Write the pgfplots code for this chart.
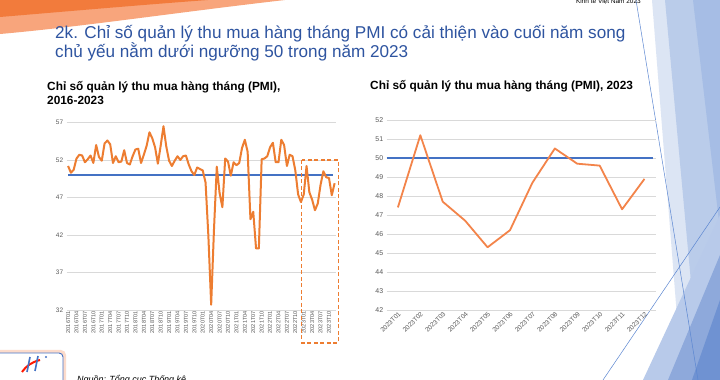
\documentclass[border=0pt]{standalone}
\usepackage{fontspec}
\setmainfont{Liberation Sans}
\usepackage{pgfplots}
\pgfplotsset{compat=1.18}
\usepackage{pgfplotstable}
\definecolor{titleblue}{HTML}{2E54A0}
\definecolor{pmiorange}{HTML}{ED7D31}
\definecolor{pmiorangeB}{HTML}{F3844A}
\definecolor{lineblue}{HTML}{4472C4}
\definecolor{gridgray}{HTML}{D9D9D9}
\definecolor{ticktext}{HTML}{595959}
\definecolor{orangeD}{HTML}{F27B3C}
\definecolor{orangeL}{HTML}{F8A57C}
\definecolor{blueA}{HTML}{DCE5F4}
\definecolor{blueB}{HTML}{BACCEA}
\definecolor{blueC}{HTML}{A6BDE5}
\definecolor{blueD}{HTML}{8EA9DB}
\definecolor{blueE}{HTML}{6F92D2}
\definecolor{blueThin}{HTML}{5B86D1}

\pgfplotstableread{
i v
0 51.2
1 50.3
2 50.7
3 52.2
4 52.7
5 52.6
6 51.7
7 52.1
8 52.6
9 51.6
10 54.0
11 52.4
12 51.9
13 54.2
14 54.6
15 54.1
16 51.6
17 52.5
18 51.7
19 51.8
20 53.3
21 51.6
22 51.4
23 52.5
24 53.4
25 53.5
26 51.6
27 52.7
28 53.9
29 55.7
30 54.9
31 53.7
32 51.5
33 53.9
34 56.5
35 53.8
36 51.9
37 51.2
38 51.9
39 52.5
40 52.0
41 52.5
42 52.6
43 51.4
44 50.5
45 50.0
46 51.0
47 50.8
48 50.6
49 49.0
50 41.9
51 32.7
52 42.7
53 51.1
54 47.6
55 45.7
56 52.2
57 51.8
58 49.9
59 51.7
60 51.3
61 51.6
62 53.6
63 54.7
64 53.1
65 44.1
66 45.1
67 40.2
68 40.2
69 52.1
70 52.2
71 52.5
72 53.7
73 54.3
74 51.7
75 51.7
76 54.7
77 54.0
78 51.2
79 52.7
80 52.5
81 50.6
82 47.4
83 46.4
84 47.4
85 51.2
86 47.7
87 46.7
88 45.3
89 46.2
90 48.7
91 50.5
92 49.7
93 49.6
94 47.3
95 48.9
}\pmiall

\pgfplotstableread{
i v
0 47.4
1 51.2
2 47.7
3 46.7
4 45.3
5 46.2
6 48.7
7 50.5
8 49.7
9 49.6
10 47.3
11 48.9
}\pmiyear

\begin{document}
\begin{tikzpicture}
\clip (0,0) rectangle (720bp,380bp);
\fill[white] (0,0) rectangle (720bp,380bp);
\begin{scope}[yshift=380bp, x=1bp, y=-1bp]
  % orange swoosh top-left
  \fill[orangeL] (0,15) -- (0,34) .. controls (80,27) and (180,12) .. (285,0) -- (200,0) -- cycle;
  \fill[orangeD] (0,0) -- (208,0) .. controls (140,5) and (60,12) .. (0,17) -- cycle;
  % blue facets right
  \fill[blueA] (652,0) -- (720,0) -- (720,380) -- (682,380) -- cycle;
  \fill[blueB] (665,0) -- (720,0) -- (720,380) -- (700,380) -- cycle;
  \fill[blueC] (693,0) -- (720,0) -- (720,230) -- cycle;
  \fill[blueC!80!white] (643,380) -- (720,215) -- (720,380) -- cycle;
  \fill[blueD] (668,380) -- (720,255) -- (720,380) -- cycle;
  \fill[blueE] (692,380) -- (720,300) -- (720,380) -- cycle;
  \draw[blueThin, line width=0.5bp] (636,0) -- (698,380);
  \draw[blueThin, line width=0.5bp] (720,207) -- (603,380);
  % header small text
  \node[anchor=base east, inner sep=0, font=\fontsize{6.5}{7}\selectfont] at (641,4) {Kinh tế Việt Nam 2023};
  % title
  \node[anchor=base west, inner sep=0, text=titleblue, font=\fontsize{17.2}{19}\selectfont] at (55,39)
     {2k. Chỉ số quản lý thu mua hàng tháng PMI có cải thiện vào cuối năm song};
  \node[anchor=base west, inner sep=0, text=titleblue, font=\fontsize{17.2}{19}\selectfont] at (55,58)
     {chủ yếu nằm dưới ngưỡng 50 trong năm 2023};
  % subtitles
  \node[anchor=base west, inner sep=0, font=\bfseries\fontsize{11.9}{13}\selectfont] at (47,91)
     {Chỉ số quản lý thu mua hàng tháng (PMI),};
  \node[anchor=base west, inner sep=0, font=\bfseries\fontsize{11.9}{13}\selectfont] at (47,105)
     {2016-2023};
  \node[anchor=base west, inner sep=0, font=\bfseries\fontsize{11.9}{13}\selectfont] at (370,90)
     {Chỉ số quản lý thu mua hàng tháng (PMI), 2023};
  % logo
  \fill[orangeL!40!white, rounded corners=5] (-6,350) rectangle (66,392);
  \draw[lineblue, line width=0.9bp, fill=white, rounded corners=4] (-6,353) rectangle (63,392);
  \draw[red!80!orange, line width=2bp] (22,372) .. controls (26,366) and (32,362) .. (40,360);
  \draw[lineblue, line width=1.6bp] (30,357) -- (27,372);
  \draw[lineblue, line width=1.6bp] (38,356) -- (35,371);
  \fill[lineblue] (46,357) circle (1.2);
  % source
  \node[anchor=base west, inner sep=0, font=\itshape\fontsize{9}{10}\selectfont] at (77,383)
     {Nguồn: Tổng cục Thống kê};
\end{scope}

% left chart
\begin{axis}[
  at={(66.7bp,70bp)}, anchor=south west, scale only axis,
  width=269.3bp, height=187.5bp,
  xmin=-0.5, xmax=95.5, ymin=32, ymax=57,
  axis line style={draw=none}, major tick length=0pt,
  ytick={32,37,42,47,52,57}, ymajorgrids,
  grid style={gridgray, line width=0.75bp},
  xtick={0,3,...,93},
  xticklabels={2016T01,2016T04,2016T07,2016T10,2017T01,2017T04,2017T07,2017T10,2018T01,2018T04,2018T07,2018T10,2019T01,2019T04,2019T07,2019T10,2020T01,2020T04,2020T07,2020T10,2021T01,2021T04,2021T07,2021T10,2022T01,2022T04,2022T07,2022T10,2023T01,2023T04,2023T07,2023T10},
  x tick label style={rotate=90, anchor=east, font=\fontsize{5.6}{6}\selectfont, text=ticktext, inner sep=1bp},
  y tick label style={font=\fontsize{6.5}{7}\selectfont, text=ticktext},
  /pgf/number format/assume math mode=true,
  clip=false,
]
\addplot[lineblue, line width=2bp] coordinates {(0,50) (94.3,50)};
\addplot[pmiorange, line width=2bp, line join=round] table[x=i, y=v] {\pmiall};
\draw[pmiorange, line width=1.1bp, dash pattern=on 4bp off 2.5bp] (axis cs:83.3,52) rectangle (axis cs:96.3,27.6);
\end{axis}

% right chart
\begin{axis}[
  at={(386.7bp,70bp)}, anchor=south west, scale only axis,
  width=269bp, height=190bp,
  xmin=-0.5, xmax=11.5, ymin=42, ymax=52,
  axis line style={draw=none}, major tick length=0pt,
  ytick={42,43,...,52}, ymajorgrids,
  grid style={gridgray, line width=0.75bp},
  xtick={0,...,11},
  xticklabels={2023T01,2023T02,2023T03,2023T04,2023T05,2023T06,2023T07,2023T08,2023T09,2023T10,2023T11,2023T12},
  x tick label style={rotate=45, anchor=north east, font=\fontsize{6.5}{7}\selectfont, text=ticktext, inner sep=1bp},
  y tick label style={font=\fontsize{7}{8}\selectfont, text=ticktext},
  /pgf/number format/assume math mode=true,
  clip=false,
]
\addplot[lineblue, line width=2bp] coordinates {(-0.5,50) (11.4,50)};
\addplot[pmiorangeB, line width=1.8bp, line join=round] table[x=i, y=v] {\pmiyear};
\end{axis}
\end{tikzpicture}
\end{document}
